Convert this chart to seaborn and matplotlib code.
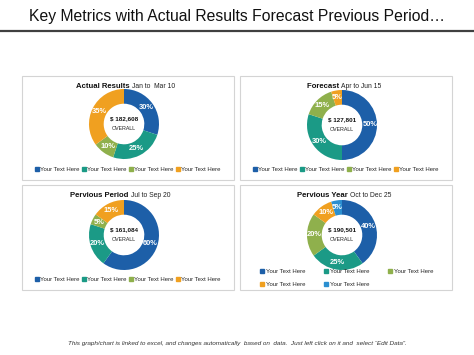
import matplotlib
matplotlib.use("Agg")
import matplotlib.pyplot as plt
import seaborn as sns
from matplotlib.patches import Rectangle
from matplotlib.lines import Line2D

# data
panel_titles = ["Actual Results", "Forecast", "Pervious Period", "Pervious Year"]
panel_periods = ["Jan to  Mar 10", "Apr to Jun 15", "Jul to Sep 20", "Oct to Dec 25"]
panel_totals = ["$ 182,608", "$ 127,801", "$ 161,084", "$ 190,501"]
actual_vals = [30, 25, 10, 35]
forecast_vals = [50, 30, 15, 5]
prev_period_vals = [60, 20, 5, 15]
prev_year_vals = [40, 25, 20, 10, 5]
legend_label = "Your Text Here"

sns.set_theme(style="white")
plt.rcParams["font.family"] = ["Liberation Sans", "DejaVu Sans"]

palette = ["#1d5fa8", "#1b9a86", "#8fb04c", "#f0a020", "#2b8fd0"]

W, H = 474, 355
fig = plt.figure(figsize=(W / 100, H / 100), dpi=100)

def fx(px):
    return px / W

def fy(py):
    return 1 - py / H

# title and rule
fig.text(0.5, fy(17), "Key Metrics with Actual Results Forecast Previous Period\u2026",
         ha="center", va="center", fontsize=11.3, color="#111111")
fig.add_artist(Line2D([0, 1], [fy(31), fy(31)], color="#404040", lw=1.6))

fig.text(0.5, fy(343),
         "This graph/chart is linked to excel, and changes automatically  based on  data.  Just left click on it and  select \u201cEdit Data\u201d.",
         ha="center", va="center", fontsize=4.6, style="italic", color="#333333")

boxes = [(22, 76, 234, 180), (240, 76, 452, 180), (22, 185, 234, 290), (240, 185, 452, 290)]
centers = [(124, 124), (342, 125), (124, 235), (342, 235)]
title_join = [132, 341, 131, 350]
all_vals = [actual_vals, forecast_vals, prev_period_vals, prev_year_vals]
R = 35.0

for i, (x0, y0, x1, y1) in enumerate(boxes):
    fig.add_artist(Rectangle((fx(x0), fy(y1)), fx(x1 - x0), (y1 - y0) / H,
                             fill=False, edgecolor="#d4d4d4", lw=0.8))
    ty = y0 + 10
    fig.text(fx(title_join[i]), fy(ty), panel_titles[i] + " ", ha="right", va="center",
             fontsize=5.6, fontweight="bold", color="#111111")
    fig.text(fx(title_join[i]), fy(ty), panel_periods[i], ha="left", va="center",
             fontsize=4.9, color="#222222")

    cx, cy = centers[i]
    half = 42
    ax = fig.add_axes([fx(cx - half), fy(cy + half), fx(2 * half), 2 * half / H])
    vals = all_vals[i]
    cols = palette[:len(vals)]
    wedges, _, autotexts = ax.pie(vals, colors=cols, startangle=90, counterclock=False,
                                  radius=1.0, autopct="%d%%", pctdistance=0.8,
                                  wedgeprops=dict(width=0.42, linewidth=0),
                                  textprops=dict(color="white", fontsize=5.4, fontweight="bold"))
    lim = half / R
    ax.set_xlim(-lim, lim)
    ax.set_ylim(-lim, lim)
    ax.set_aspect("equal")
    ax.axis("off")
    ax.text(0, 0.14, panel_totals[i], ha="center", va="center", fontsize=4.5,
            fontweight="bold", color="#111111")
    ax.text(0, -0.12, "OVERALL", ha="center", va="center", fontsize=3.8, color="#222222")

    handles = [Line2D([], [], marker="s", linestyle="", color=c, markersize=2.2) for c in cols]
    labels = [legend_label] * len(vals)
    if len(vals) == 4:
        fig.legend(handles, labels, loc="center", ncol=4,
                   bbox_to_anchor=(fx((x0 + x1) / 2), fy(y1 - 11)),
                   frameon=False, fontsize=4.3, handlelength=0.6, handletextpad=0.15,
                   columnspacing=0.5, borderpad=0, borderaxespad=0)
    else:
        # legend fills column by column; reorder so rows read in series order
        order = [0, 3, 1, 4, 2]
        fig.legend([handles[k] for k in order], [labels[k] for k in order],
                   loc="upper left", ncol=3,
                   bbox_to_anchor=(fx(260), fy(269)),
                   frameon=False, fontsize=4.3, handlelength=0.6, handletextpad=0.4,
                   columnspacing=3.1, borderpad=0, borderaxespad=0, labelspacing=1.3)

fig.savefig("out.png", dpi=100, facecolor="white")
